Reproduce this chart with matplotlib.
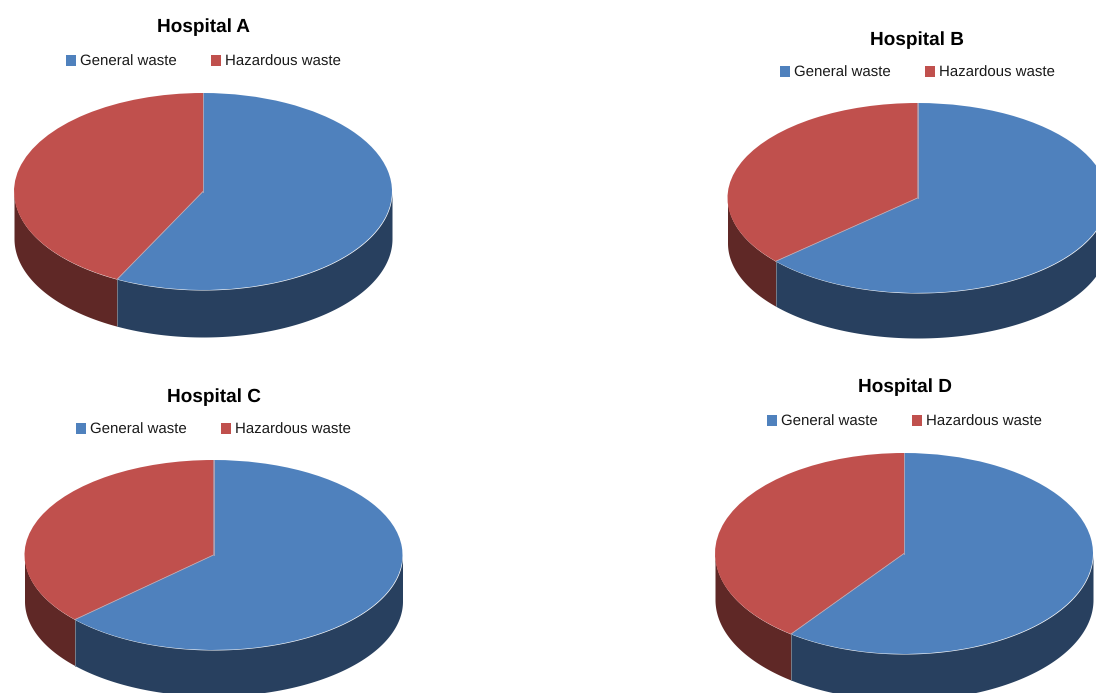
import numpy as np
import matplotlib
matplotlib.use('Agg')
import matplotlib.pyplot as plt
from matplotlib.patches import Patch

plt.rcParams['font.family'] = ['Liberation Sans', 'DejaVu Sans']
plt.rcParams['text.hinting'] = 'none'
plt.rcParams['text.hinting_factor'] = 1

hospitals = ['Hospital A', 'Hospital B', 'Hospital C', 'Hospital D']
categories = ['General waste', 'Hazardous waste']
general_share = [57.5, 63.4, 63.1, 60.2]
hazardous_share = [42.5, 36.6, 36.9, 39.8]

top_colors = ['#4f81bd', '#c0504d']
side_colors = ['#28405f', '#5f2826']

W, H = 1096, 693
# pixel layout of each pie: centre x, centre y, radius x, radius y, depth
layout = [(203, 191.5, 189, 98.5, 47),
          (917.5, 198, 190, 95, 45),
          (213.5, 555, 189, 95, 46),
          (904, 553.5, 189, 100.5, 46)]
title_xy = [(203.5, 27.5), (917, 40.5), (213.5, 397.5), (904.5, 387)]
legend_xy = [(203.5, 62), (917.5, 73), (213.5, 430), (904.5, 422)]

fig = plt.figure(figsize=(W / 100, H / 100), dpi=100)
handles = [Patch(facecolor=c, edgecolor='none') for c in top_colors]

for i, name in enumerate(hospitals):
    cx, cy, rx, ry, depth = layout[i]
    d = depth / ry
    ax = fig.add_axes([(cx - rx) / W, 1 - (cy + ry + depth) / H,
                       2 * rx / W, (2 * ry + depth) / H])

    vals = [general_share[i], hazardous_share[i]]
    # side wall first, only the front half of the rim shows
    cut = 450 - 360 * vals[0] / sum(vals)
    th1 = np.radians(np.linspace(180, cut, 80))
    th2 = np.radians(np.linspace(cut, 360, 160))
    ax.fill_between(np.cos(th1), np.sin(th1), np.sin(th1) - d,
                    color=side_colors[1], lw=0, clip_on=False)
    ax.fill_between(np.cos(th2), np.sin(th2), np.sin(th2) - d,
                    color=side_colors[0], lw=0, clip_on=False)
    ax.plot([np.cos(th2[0])] * 2, [np.sin(th2[0]), np.sin(th2[0]) - d],
            color='#77808c', lw=0.6, clip_on=False)

    wedges, _ = ax.pie(vals, colors=top_colors, startangle=90, counterclock=False,
                       radius=1, center=(0, 0), wedgeprops={'linewidth': 0})
    for w in wedges:
        w.set_clip_on(False)
    # thin light seams between the two slices
    ax.plot([0, 0], [0, 1], color='#b9a9b4', lw=0.6, clip_on=False)
    ax.plot([0, np.cos(th2[0])], [0, np.sin(th2[0])], color='#b9a9b4', lw=0.6, clip_on=False)
    ax.set_aspect('auto')
    ax.set_xlim(-1, 1)
    ax.set_ylim(-1 - d, 1)
    ax.axis('off')

    tx, ty = title_xy[i]
    fig.text(tx / W, 1 - ty / H, name, ha='center', va='center',
             fontsize=13.5, fontweight='bold', color='black')

    lx, ly = legend_xy[i]
    fig.legend(handles, categories, ncol=2, loc='center',
               bbox_to_anchor=(lx / W, 1 - ly / H), frameon=False,
               fontsize=11.0, handlelength=0.66, handleheight=0.66,
               handletextpad=0.27, columnspacing=2.25, labelcolor='#1a1a1a')

fig.savefig('out.png', dpi=100)
